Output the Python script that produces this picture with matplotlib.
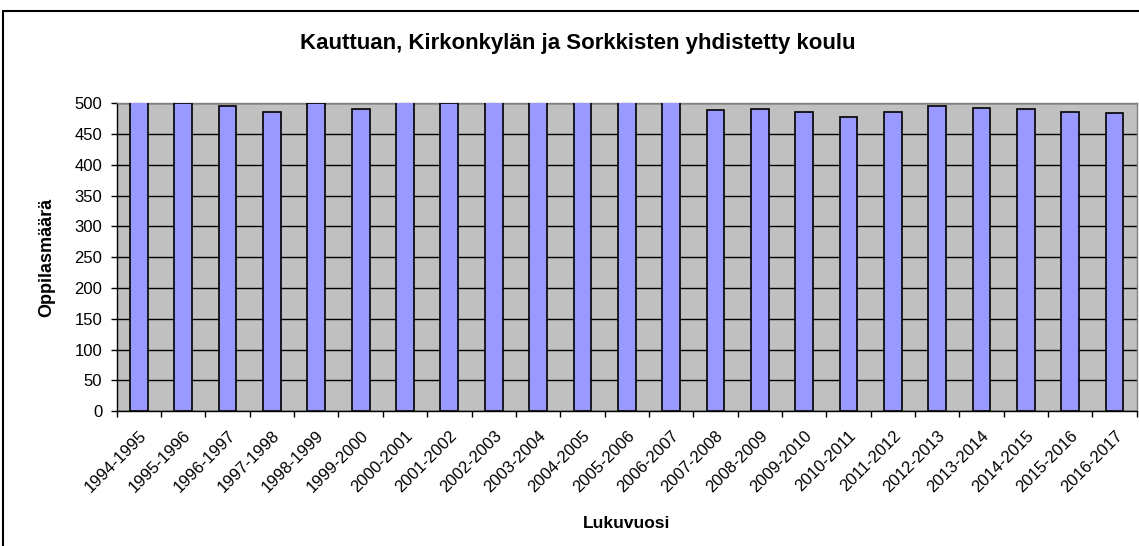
import matplotlib
matplotlib.use("Agg")
import matplotlib.pyplot as plt
from matplotlib.patches import Rectangle
import numpy as np

plt.rcParams['font.family'] = ['Liberation Sans', 'DejaVu Sans']

years = ["1994-1995", "1995-1996", "1996-1997", "1997-1998", "1998-1999",
         "1999-2000", "2000-2001", "2001-2002", "2002-2003", "2003-2004",
         "2004-2005", "2005-2006", "2006-2007", "2007-2008", "2008-2009",
         "2009-2010", "2010-2011", "2011-2012", "2012-2013", "2013-2014",
         "2014-2015", "2015-2016", "2016-2017"]
# values above 500 are cut off in the original chart
students = [510, 500, 495, 486, 500, 491, 505, 500, 515, 520,
            520, 515, 510, 489, 491, 486, 477, 486, 495, 493,
            491, 486, 484]

fig = plt.figure(figsize=(11.39, 5.46), dpi=100)
ax = fig.add_axes([0.1025, 0.247, 0.8955, 0.564])

x = np.arange(len(years))
ax.set_facecolor("#c0c0c0")
ax.set_axisbelow(True)
ax.yaxis.grid(True, color="black", linewidth=1)
ax.bar(x, students, width=0.4, color="#9999ff", edgecolor="black", linewidth=1.2, zorder=3)

ax.set_xlim(-0.5, len(years) - 0.5)
ax.set_ylim(0, 500)
ax.set_yticks(np.arange(0, 501, 50))
ax.tick_params(axis="y", labelsize=12, length=4.5, width=1, direction="out", pad=6)

ax.set_xticks(x)
ax.set_xticklabels(years, rotation=45, ha="right", rotation_mode="anchor", fontsize=12)
ax.tick_params(axis="x", length=0, pad=12)
ax.set_xticks(np.arange(-0.5, len(years)), minor=True)
ax.tick_params(axis="x", which="minor", length=4.5, width=1, direction="out")

for s in ["top", "right"]:
    ax.spines[s].set_color("#808080")
    ax.spines[s].set_linewidth(1)
for s in ["left", "bottom"]:
    ax.spines[s].set_color("black")
    ax.spines[s].set_linewidth(1)

ax.set_ylabel("Oppilasmäärä", fontsize=13, fontweight="bold", labelpad=14)
ax.set_xlabel("Lukuvuosi", fontsize=12.5, fontweight="bold", labelpad=15)
fig.text(0.507, 0.921, "Kauttuan, Kirkonkylän ja Sorkkisten yhdistetty koulu",
         ha="center", va="center", fontsize=16, fontweight="bold")

fig.patches.append(Rectangle((3 / 1139, -0.1), 1.2, 1.1 - 11 / 546,
                             transform=fig.transFigure, fill=False,
                             edgecolor="black", linewidth=1.5))

fig.savefig("out.png", dpi=100)
